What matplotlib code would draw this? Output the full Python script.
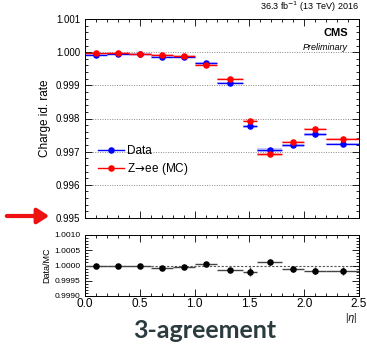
import matplotlib
matplotlib.use("Agg")
import matplotlib.pyplot as plt
from matplotlib.ticker import MultipleLocator, FormatStrFormatter
from matplotlib.patches import Rectangle
from matplotlib.lines import Line2D
import numpy as np

plt.rcParams['font.family'] = ['Liberation Sans', 'DejaVu Sans']

# |eta| binning
bin_lo = [0.0, 0.2, 0.4, 0.6, 0.8, 1.0, 1.2, 1.44, 1.57, 1.8, 2.0, 2.2]
bin_hi = [0.2, 0.4, 0.6, 0.8, 1.0, 1.2, 1.44, 1.57, 1.8, 2.0, 2.2, 2.5]

# charge identification rate
data_rate = [0.99991, 0.99993, 0.99993, 0.99986, 0.99984, 0.99966,
             0.99907, 0.99776, 0.99705, 0.99719, 0.99752, 0.99723]
mc_rate = [0.99996, 0.99997, 0.99994, 0.99992, 0.99989, 0.99961,
           0.99920, 0.99793, 0.99692, 0.99729, 0.99769, 0.99739]
data_err = [0.00002, 0.00002, 0.00002, 0.00002, 0.00002, 0.00003,
            0.00004, 0.00005, 0.00005, 0.00004, 0.00004, 0.00004]
mc_err = [0.00002, 0.00002, 0.00002, 0.00002, 0.00002, 0.00003,
          0.00003, 0.00004, 0.00004, 0.00003, 0.00003, 0.00003]

# Data/MC ratio
ratio = [0.99997, 0.99997, 0.99998, 0.99992, 0.99995, 1.00004,
         0.99986, 0.99980, 1.00011, 0.99990, 0.99983, 0.99983]
ratio_err = [0.00002, 0.00002, 0.00002, 0.00002, 0.00003, 0.00003,
             0.00004, 0.00015, 0.00009, 0.00010, 0.00011, 0.00013]

lo = np.array(bin_lo)
hi = np.array(bin_hi)
x = 0.5 * (lo + hi)
xw = 0.5 * (hi - lo)

fig = plt.figure(figsize=(3.67, 3.46), dpi=100)
W, H = 367.0, 346.0
ax = fig.add_axes([85 / W, 1 - 218 / H, 274 / W, 199 / H])
axr = fig.add_axes([85 / W, 1 - 296 / H, 274 / W, 61 / H])

BLUE = '#0000ff'
RED = '#ff0000'
MS = 3.7


def draw_series(a, vals, errs, color, band):
    for l, h, v, e in zip(lo, hi, vals, errs):
        a.add_patch(Rectangle((l, v - e), h - l, 2 * e, facecolor=band,
                              edgecolor='none', alpha=0.35, zorder=2))
    a.errorbar(x, vals, xerr=xw, fmt='o', color=color, ms=MS, lw=1.0,
               capsize=0, zorder=3)


draw_series(ax, data_rate, data_err, BLUE, '#6a6aff')
draw_series(ax, mc_rate, mc_err, RED, '#ff6a6a')

ax.set_xlim(0, 2.5)
ax.set_ylim(0.995, 1.001)
ax.yaxis.set_major_locator(MultipleLocator(0.001))
ax.yaxis.set_minor_locator(MultipleLocator(0.0002))
ax.yaxis.set_major_formatter(FormatStrFormatter('%.3f'))
ax.xaxis.set_major_locator(MultipleLocator(0.5))
ax.xaxis.set_minor_locator(MultipleLocator(0.1))
ax.tick_params(axis='x', labelbottom=False)
for yv in np.arange(0.996, 1.0005, 0.001):
    ax.axhline(yv, color='#888888', ls=(0, (1, 1.5)), lw=0.7, zorder=1)
ax.set_ylabel('Charge id. rate', fontsize=8.5, labelpad=3)

for a in (ax, axr):
    a.tick_params(which='both', direction='in', top=True, right=True,
                  labelsize=7, width=0.6)
    a.tick_params(which='major', length=5)
    a.tick_params(which='minor', length=2.5)
    for s in a.spines.values():
        s.set_linewidth(0.7)

# legend
handles = [Line2D([], [], color=BLUE, marker='o', ms=MS, lw=1.0),
           Line2D([], [], color=RED, marker='o', ms=MS, lw=1.0)]
ax.legend(handles, ['Data', r'Z$\!\rightarrow\!$ee (MC)'], loc='upper left',
          bbox_to_anchor=(0.03, 0.39), frameon=False, fontsize=8.5,
          handlelength=2.2, handletextpad=0.3, labelspacing=0.35,
          borderaxespad=0)

ax.text(0.96, 0.93, 'CMS', transform=ax.transAxes, ha='right', va='center',
        fontsize=8, fontweight='bold')
ax.text(0.96, 0.855, 'Preliminary', transform=ax.transAxes, ha='right',
        va='center', fontsize=6.5, style='italic')
ax.text(1.0, 1.025, r'36.3 fb$^{-1}$ (13 TeV) 2016', transform=ax.transAxes,
        ha='right', va='bottom', fontsize=6.5)

# ratio panel
axr.errorbar(x, ratio, xerr=xw, yerr=ratio_err, fmt='o', color='black',
             ecolor='#444444', ms=MS, lw=1.0, capsize=0, zorder=3)
axr.axhline(1.0, color='#555555', ls=(0, (2, 1.5)), lw=0.8, zorder=1)
axr.set_xlim(0, 2.5)
axr.set_ylim(0.999, 1.001)
axr.yaxis.set_major_locator(MultipleLocator(0.0005))
axr.yaxis.set_minor_locator(MultipleLocator(0.0001))
axr.yaxis.set_major_formatter(FormatStrFormatter('%.4f'))
axr.xaxis.set_major_locator(MultipleLocator(0.5))
axr.xaxis.set_minor_locator(MultipleLocator(0.1))
axr.xaxis.set_major_formatter(FormatStrFormatter('%.1f'))
axr.tick_params(axis='y', labelsize=6)
axr.tick_params(axis='x', labelsize=8.5, pad=1.5)
axr.set_ylabel('Data/MC', fontsize=6.5, labelpad=2)
axr.text(0.995, -0.24, r'|$\eta$|', transform=axr.transAxes, ha='right',
         va='top', fontsize=7)

# arrow pointing at the lower limit
ax.annotate('', xy=(52 / W, 1 - 216 / H), xycoords='figure fraction',
            xytext=(4 / W, 1 - 216 / H), textcoords='figure fraction',
            arrowprops=dict(arrowstyle='-|>,head_length=0.7,head_width=0.45',
                            color='#ee1111', lw=3))

fig.text(205 / W, 1 - 331 / H, '3-agreement', ha='center', va='center',
         fontsize=18, fontweight='bold', family=['Lato', 'DejaVu Sans'],
         color='#2b3b3f')

fig.savefig('out.png', dpi=100)
